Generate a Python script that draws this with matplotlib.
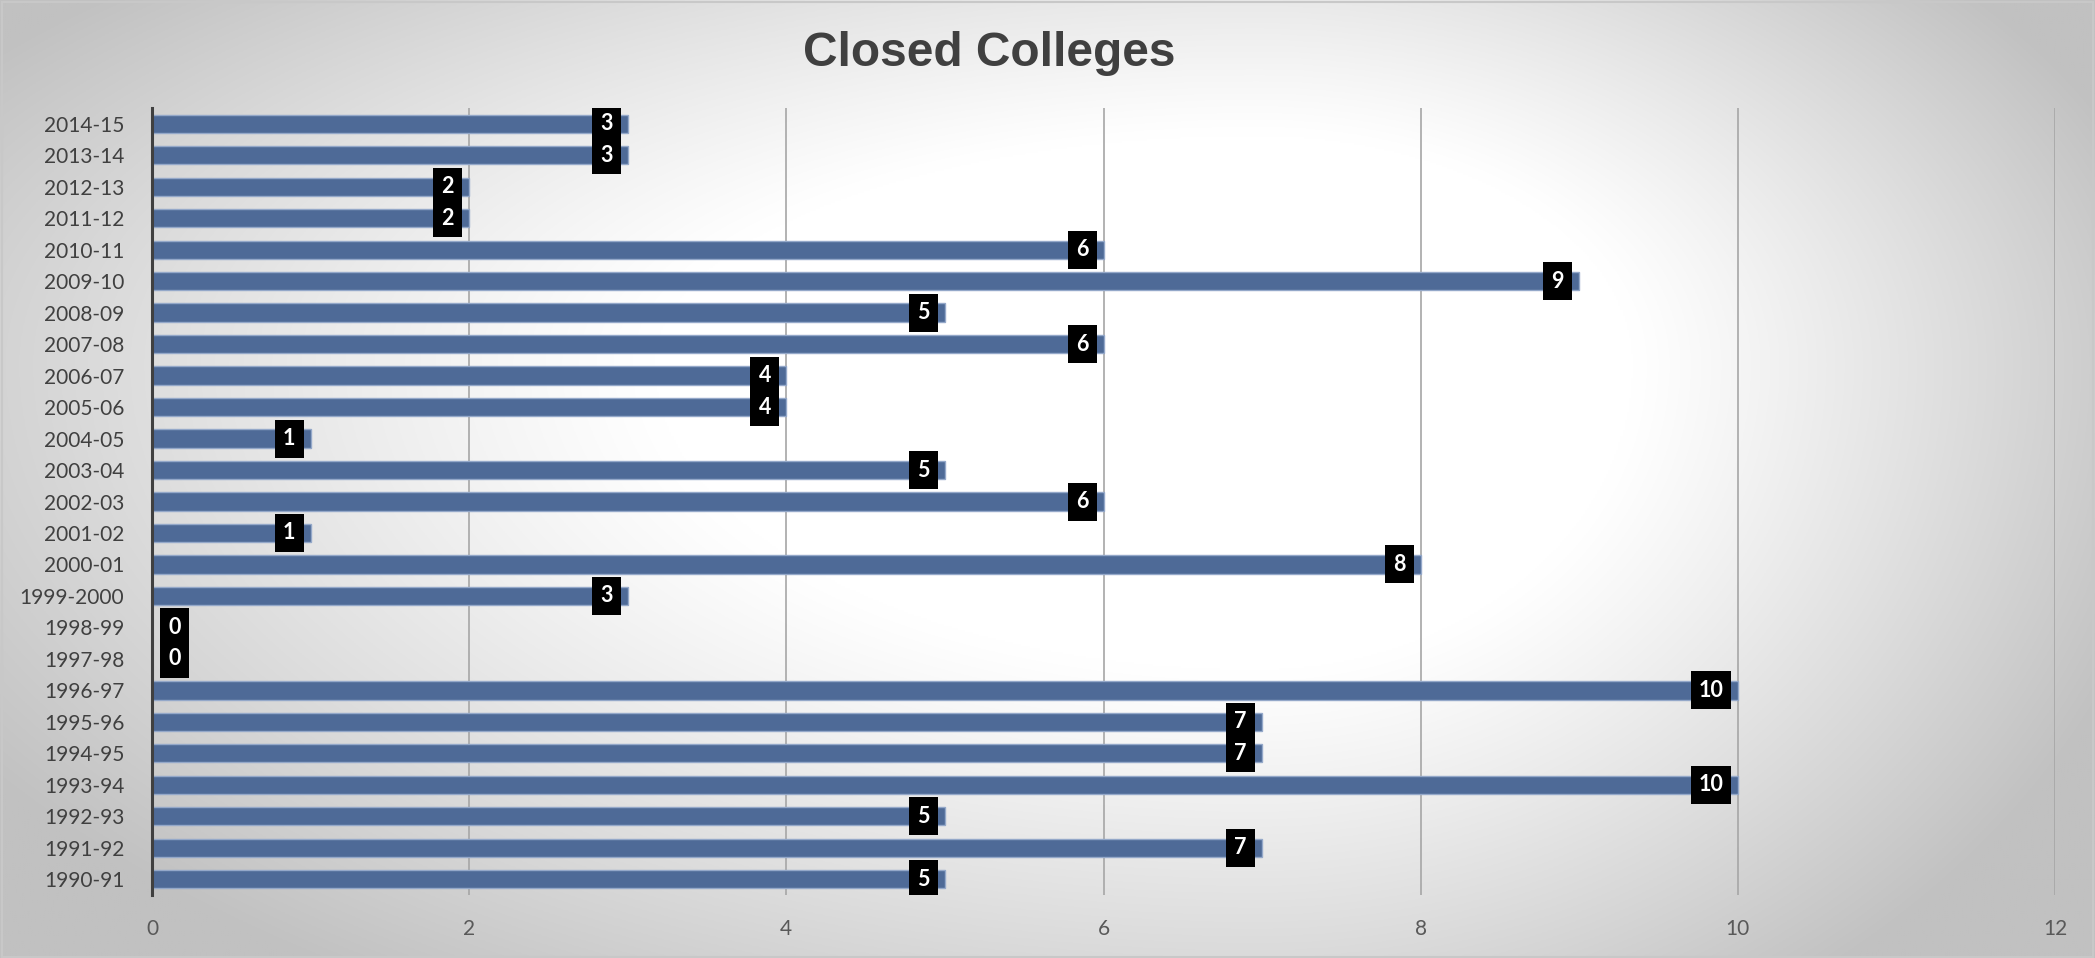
import numpy as np
import matplotlib.pyplot as plt
from matplotlib.patches import Rectangle

years = ["1990-91", "1991-92", "1992-93", "1993-94", "1994-95", "1995-96",
         "1996-97", "1997-98", "1998-99", "1999-2000", "2000-01", "2001-02",
         "2002-03", "2003-04", "2004-05", "2005-06", "2006-07", "2007-08",
         "2008-09", "2009-10", "2010-11", "2011-12", "2012-13", "2013-14",
         "2014-15"]
closed = [5, 7, 5, 10, 7, 7, 10, 0, 0, 3, 8, 1, 6, 5, 1, 4, 4, 6, 5, 9, 6,
          2, 2, 3, 3]

W, H = 2095, 958
fig = plt.figure(figsize=(W / 100, H / 100), dpi=100)

# grey edges fading to a white centre, a little right of the middle
bg = fig.add_axes([0, 0, 1, 1], zorder=-10)
yy, xx = np.mgrid[0:1:480j, 0:1:1000j]
cx, cy = 0.6, 0.38
sx = np.where(xx < cx, 0.72, 0.45)
sy = np.where(yy < cy, 0.6, 0.8)
d = np.sqrt(((xx - cx) / sx) ** 2 + ((yy - cy) / sy) ** 2)
shade = 255 - 62 * np.clip((d - 0.4) / 0.6, 0, 1) ** 1.1
img = np.dstack([shade, shade, shade]) / 255.0
bg.imshow(img, extent=[0, 1, 0, 1], aspect='auto', origin='upper')
bg.axis('off')
fig.patches.append(Rectangle((0.001, 0.001), 0.998, 0.997, transform=fig.transFigure,
                             fill=False, edgecolor='#C8C8C8', linewidth=1.5))

ax_l, ax_r, ax_t, ax_b = 152, 2055, 108, 895
ax = fig.add_axes([ax_l / W, 1 - ax_b / H, (ax_r - ax_l) / W, (ax_b - ax_t) / H])
ax.set_facecolor('none')

xmax = 12
pos = np.arange(len(years))
ax.barh(pos, closed, height=0.58, color='#4E6A97', edgecolor='#94A8C9',
        linewidth=1.0, zorder=3)

# black value tags sitting just inside the bar ends
px_x = (ax_r - ax_l) / xmax           # pixels per unit along x
px_y = (ax_b - ax_t) / len(years)     # pixels per category
for p, v in zip(pos, closed):
    bw = (18 + 11 * len(str(v))) / px_x
    bh = 38 / px_y
    x0 = 8 / px_x if v == 0 else v - 7 / px_x - bw
    ax.add_patch(Rectangle((x0, p - bh / 2), bw, bh, facecolor='black',
                           edgecolor='none', zorder=5))
    ax.text(x0 + bw / 2, p, str(v), ha='center', va='center', color='white',
            fontsize=15.5, fontweight='bold', family='Lato', zorder=6)

ax.set_xlim(0, xmax)
ax.set_ylim(-0.5, len(years) - 0.5)
ax.set_xticks(np.arange(0, xmax + 1, 2))
ax.set_yticks(pos)
ax.set_yticklabels(years)
ax.tick_params(axis='y', length=0, pad=20, labelsize=15, labelcolor='#404040')
ax.tick_params(axis='x', length=0, pad=17, labelsize=15, labelcolor='#595959')
for lab in ax.get_xticklabels() + ax.get_yticklabels():
    lab.set_family('Lato')

ax.grid(axis='x', color='#A6A6A6', linewidth=1.2, zorder=0)
ax.set_axisbelow(True)
for s in ['top', 'right', 'bottom']:
    ax.spines[s].set_visible(False)
ax.spines['left'].set_color('#404040')
ax.spines['left'].set_linewidth(2.2)
ax.spines['left'].set_zorder(4)

fig.text(0.472, 1 - 54 / H, "Closed Colleges", ha='center', va='center',
         fontsize=34.5, fontweight='bold', color='#404040', family='Liberation Sans')

fig.savefig("out.png", dpi=100)
